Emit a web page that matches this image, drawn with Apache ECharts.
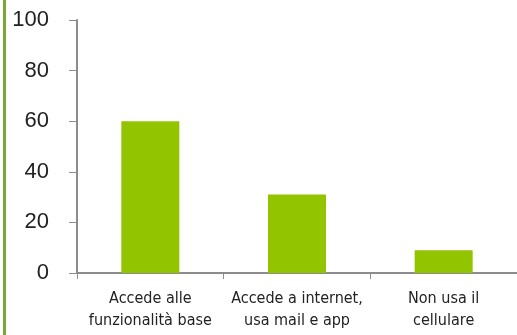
<!DOCTYPE html>
<html><head><meta charset="utf-8">
<script src="https://cdn.jsdelivr.net/npm/echarts@6/dist/echarts.min.js"></script>
<style>html,body{margin:0;padding:0;background:#fff;}#c{width:517px;height:335px;}</style>
</head><body><div id="c"></div>
<script>
const categories = ["Accede alle\nfunzionalità base", "Accede a internet,\nusa mail e app", "Non usa il\ncellulare"];
const values = [60, 31, 9];
const yTicks = [0, 20, 40, 60, 80, 100];

const chart = echarts.init(document.getElementById('c'));
chart.setOption({
  animation: false,
  graphic: [{type: 'rect', shape: {x: 3, y: 0, width: 3, height: 335}, style: {fill: '#78a832'}}],
  grid: {left: 77, right: 0, top: 20, bottom: 62},
  xAxis: {
    type: 'category', data: categories,
    axisLine: {lineStyle: {color: '#8c8c8c', width: 2}},
    axisTick: {show: true, length: 6, lineStyle: {color: '#8c8c8c', width: 1}},
    axisLabel: {color: '#222', fontSize: 16, fontFamily: 'DejaVu Sans Condensed, Liberation Sans Narrow, sans-serif', lineHeight: 22, margin: 15, interval: 0}
  },
  yAxis: {
    type: 'value', min: 0, max: 100, interval: 20,
    axisLine: {show: true, lineStyle: {color: '#8c8c8c', width: 2}},
    axisTick: {show: true, length: 8, lineStyle: {color: '#8c8c8c', width: 1}},
    splitLine: {show: false},
    axisLabel: {color: '#222', fontSize: 22, fontFamily: 'Liberation Sans, Arial, sans-serif', margin: 28,
      formatter: v => yTicks.includes(v) ? String(v) : ''}
  },
  series: [{type: 'bar', data: values, barWidth: 58, itemStyle: {color: '#92c400'}}]
});
</script></body></html>
